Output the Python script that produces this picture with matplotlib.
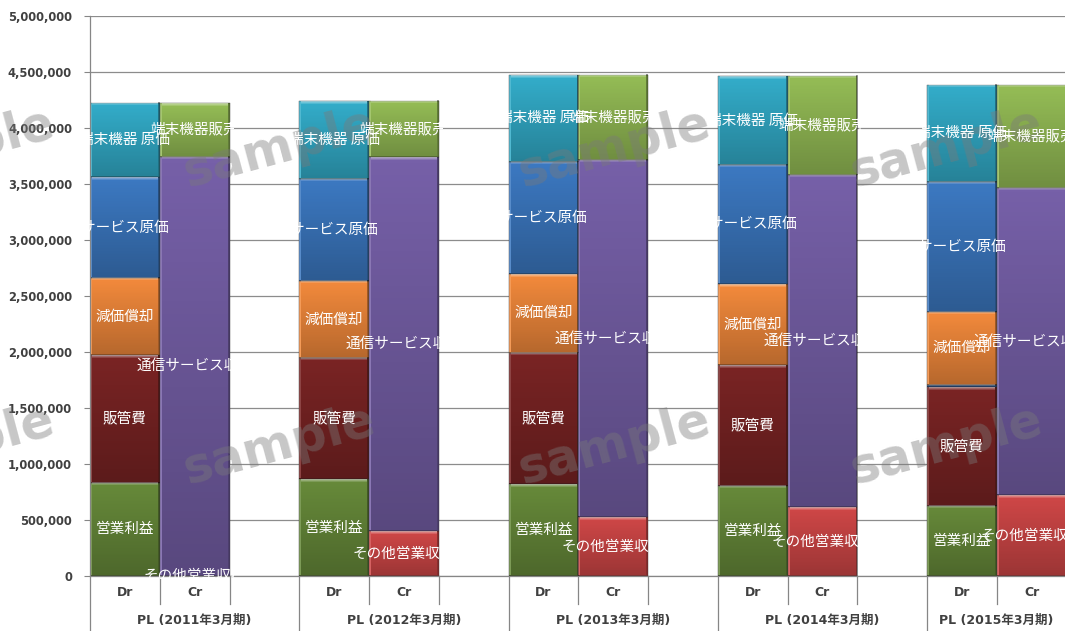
import numpy as np
import matplotlib.pyplot as plt
from matplotlib.transforms import Bbox, TransformedBbox, blended_transform_factory

periods = ["PL (2011年3月期)", "PL (2012年3月期)", "PL (2013年3月期)",
           "PL (2014年3月期)", "PL (2015年3月期)"]
sides = ["Dr", "Cr"]

# debit side, bottom to top
operating_profit = [833000, 863000, 821000, 806000, 628000]
sga = [1140000, 1083000, 1173000, 1078000, 1057000]
other_expense = [0, 0, 0, 0, 20000]
depreciation = [688000, 688000, 702000, 723000, 655000]
service_cost = [899000, 914000, 1003000, 1063000, 1161000]
device_cost = [666000, 696000, 774000, 794000, 867000]

# credit side, bottom to top
other_revenue = [0, 400000, 524000, 613000, 723000]
telecom_revenue = [3744000, 3338000, 3190000, 2967000, 2744000]
device_sales = [482000, 506000, 759000, 884000, 921000]

dr_series = [
    ("営業利益", operating_profit, "#678a3a"),
    ("販管費", sga, "#7a2424"),
    ("その他費用", other_expense, "#2f63a8"),
    ("減価償却", depreciation, "#f38a3c"),
    ("サービス原価", service_cost, "#3c79c2"),
    ("端末機器 原価", device_cost, "#33adca"),
]
cr_series = [
    ("その他営業収益", other_revenue, "#cf4747"),
    ("通信サービス収益", telecom_revenue, "#7660a8"),
    ("端末機器販売", device_sales, "#95bd56"),
]
unlabeled = {"その他費用"}

W, H = 1065, 631
fig = plt.figure(figsize=(W / 100, H / 100), dpi=100)
slot_px = 69.75
ax = fig.add_axes([90 / W, 55 / H, 15 * slot_px / W, 560 / H])
ymax = 5_000_000
px_per_unit = 560 / ymax


def shade(x0, x1, y0, y1):
    """bevel-like overlay for one bar segment"""
    rows = int(round((y1 - y0) * px_per_unit))
    if rows < 2:
        return
    cols = 70
    img = np.zeros((rows, cols, 4))
    img[:, :, 3] = np.linspace(0.0, 0.25, rows)[:, None]
    top = [0.45, 0.3, 0.15][:min(3, rows)]
    img[:len(top), :, :3] = 1.0
    img[:len(top), :, 3] = np.array(top)[:, None]
    img[:, :2, :3] = 1.0
    img[:, :2, 3] = 0.15
    img[:, -2:, :3] = 0.0
    img[:, -2:, 3] = 0.35
    img[-1, :, :3] = 0.0
    img[-1, :, 3] = 0.35
    ax.imshow(img, extent=(x0, x1, y0, y1), aspect="auto",
              interpolation="bilinear", zorder=2.1)


def stack(series, xc, g, clip):
    bottom = 0
    for name, values, color in series:
        v = values[g]
        ax.bar(xc, v, bottom=bottom, width=1.0, color=color,
               edgecolor="#404040", linewidth=0.3, zorder=2)
        shade(xc - 0.5, xc + 0.5, bottom, bottom + v)
        if name not in unlabeled:
            t = ax.text(xc, bottom + v / 2, name, ha="center", va="center",
                        color="white", fontsize=10.5,
                        family=["Noto Sans CJK JP", "DejaVu Sans"], zorder=5)
            t.set_clip_box(clip)
            t.set_clip_on(True)
        bottom += v


for g in range(len(periods)):
    x_dr = 3 * g + 0.5
    x_cr = 3 * g + 1.5
    clip = TransformedBbox(Bbox([[3 * g - 0.07, -25000], [3 * g + 2.06, ymax]]),
                           ax.transData)
    stack(dr_series, x_dr, g, clip)
    stack(cr_series, x_cr, g, clip)

ax.set_xlim(0, 15)
ax.set_ylim(0, ymax)
ax.set_yticks(np.arange(0, ymax + 1, 500000))
ax.set_yticklabels([f"{v:,}" for v in range(0, ymax + 1, 500000)],
                   fontsize=8.3, fontweight="bold", color="#404040")
ax.tick_params(axis="y", length=4, width=0.8, color="#868686", pad=9)
ax.set_xticks([])
ax.yaxis.grid(True, color="#8c8c8c", linewidth=0.9, zorder=0)
ax.set_axisbelow(True)
for s in ("top", "right"):
    ax.spines[s].set_visible(False)
for s in ("left", "bottom"):
    ax.spines[s].set_color("#868686")
    ax.spines[s].set_linewidth(0.9)

# two-level category axis
trans = blended_transform_factory(ax.transData, ax.transAxes)
for g in range(len(periods)):
    ax.plot([3 * g, 3 * g], [0, -0.12], color="#868686", lw=0.9,
            transform=trans, clip_on=False)
    for k in (1, 2):
        ax.plot([3 * g + k, 3 * g + k], [0, -0.05], color="#868686", lw=0.9,
                transform=trans, clip_on=False)
    for k, side in enumerate(sides):
        ax.text(3 * g + k + 0.5, -0.03, side, ha="center", va="center",
                fontsize=9, fontweight="bold", color="#404040", transform=trans)
    label_x = 3 * g + 1.5 if g < len(periods) - 1 else (3 * g + (1065 - 90) / slot_px) / 2
    ax.text(label_x, -0.08, periods[g], ha="center", va="center",
            fontsize=9, fontweight="bold", color="#404040", transform=trans,
            family=["DejaVu Sans", "Noto Sans CJK JP"])

# watermark
for wy in (148, 445):
    for wx in (-42, 279, 614, 946):
        ax.text(wx / W, 1 - wy / H, "sample", transform=fig.transFigure,
                fontsize=35, fontweight="bold", color="#7a7a7a", alpha=0.42,
                rotation=15, rotation_mode="anchor", ha="center", va="center",
                zorder=4, clip_on=False)

fig.savefig("out.png", dpi=100)
